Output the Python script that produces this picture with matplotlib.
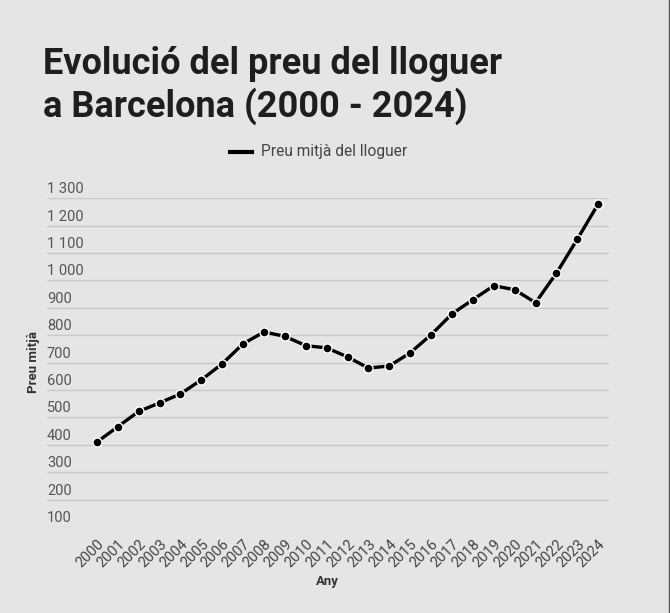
import matplotlib.pyplot as plt
import matplotlib.transforms as mtransforms
from matplotlib.lines import Line2D

# ---------------- DATA ----------------

years = [str(y) for y in range(2000, 2025)]
rent = [410, 466, 522, 553, 586, 637, 696, 769, 812, 796, 762, 754, 721,
        680, 688, 736, 802, 878, 930, 981, 966, 919, 1027, 1151, 1280]

y_ticks = [100, 200, 300, 400, 500, 600, 700, 800, 900, 1000, 1100, 1200, 1300]
y_labels = ["100", "200", "300", "400", "500", "600", "700", "800", "900",
            "1 000", "1 100", "1 200", "1 300"]

title = "Evolució del preu del lloguer\na Barcelona (2000 - 2024)"
legend_label = "Preu mitjà del lloguer"

# ---------------- STYLE ----------------

BG = "#e5e5e5"
plt.rcParams["font.family"] = ["Roboto", "DejaVu Sans"]

fig = plt.figure(figsize=(6.7, 6.13), dpi=100, facecolor=BG)
ax = fig.add_axes([0.0701, 0.1403, 0.9085 - 0.0701, 0.6765 - 0.1403])
ax.set_facecolor(BG)

x = list(range(len(years)))
ax.plot(x, rent, color="black", linewidth=2.4, marker="o", markersize=6.5,
        markerfacecolor="black", markeredgecolor="white", markeredgewidth=1.0,
        clip_on=False, zorder=3)

ax.set_xlim(-2.39, 24.5)
ax.set_ylim(100, 1300)

# gridlines
for t in y_ticks:
    ax.axhline(t, color="#c8c8c8", linewidth=1.0, zorder=1)

for s in ax.spines.values():
    s.set_visible(False)

# y labels sit above gridlines on the left
ax.set_yticks([])
trans = mtransforms.blended_transform_factory(ax.transAxes, ax.transData)
offset = mtransforms.offset_copy(trans, fig=fig, x=0, y=1.5, units="points")
for t, lab in zip(y_ticks, y_labels):
    ax.text(0.0, t, lab, transform=offset, ha="left", va="bottom",
            fontsize=10.5, color="#555555")

# x labels
ax.set_xticks(x)
ax.set_xticklabels(years, rotation=45, ha="right", rotation_mode="anchor",
                   fontsize=10.5, color="#444444")
ax.tick_params(axis="x", length=0, pad=7)

ax.set_xlabel("Any", fontsize=9.5, fontweight="bold", color="#333333",
              labelpad=4)
fig.text(33 / 670, 1 - 362 / 613, "Preu mitjà", rotation=90, ha="center",
         va="center", fontsize=9.5, fontweight="bold", color="#333333")

# title
fig.text(43 / 670, 1 - 46 / 613, title, ha="left", va="top", fontsize=26,
         fontweight="bold", color="#1e1e1e", linespacing=1.2)

# legend
fig.add_artist(Line2D([230 / 670, 252 / 670], [1 - 152 / 613, 1 - 152 / 613],
                      color="black", linewidth=3))
fig.text(261 / 670, 1 - 152 / 613, legend_label, ha="left", va="center",
         fontsize=11.2, color="#444444")

# right border
fig.add_artist(Line2D([0.9985, 0.9985], [0, 1], color="#555555", linewidth=1))

fig.savefig("out.png", dpi=100, facecolor=BG)
